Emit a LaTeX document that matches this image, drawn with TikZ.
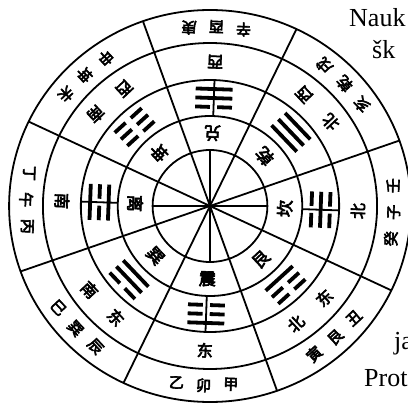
\documentclass[tikz,border=0pt]{standalone}
\usepackage{fontspec}
\setmainfont{Liberation Serif}
\newfontfamily\cjk[FakeBold=4]{Noto Sans CJK SC}
\def\rt{-2}
\newcommand\tgline[2]{%
  \ifnum#2=1 \draw[tgl] (-18,#1) -- (18,#1);
  \else \draw[tgl] (-18,#1) -- (-3.5,#1) (3.5,#1) -- (18,#1); \fi}
\newcommand\trigram[4]{% angle, bottom, middle, top (1 solid, 0 broken)
  \begin{scope}[shift={(#1+\rt:108)}, rotate=#1+\rt+90]
    \tgline{-9}{#2}\tgline{0}{#3}\tgline{9}{#4}
  \end{scope}}
\tikzset{
  ringline/.style={line width=1.8pt},
  tgl/.style={line width=3.8pt},
  mt/.style={font=\cjk\fontsize{15}{15}\selectfont, inner sep=0pt},
  dt/.style={font=\cjk\fontsize{16}{16}\selectfont, inner sep=0pt},
  gt/.style={font=\cjk\fontsize{17}{17}\selectfont, inner sep=0pt},
  lat/.style={font=\fontsize{26}{26}\selectfont, inner sep=0pt, anchor=base west}
}
\begin{document}
\begin{tikzpicture}[x=1pt,y=1pt]
\fill[white] (0,0) rectangle (408,-404);
\useasboundingbox (0,0) rectangle (408,-404);
\clip (0,0) rectangle (408,-404);
\begin{scope}[shift={(210,-206)}, xscale=1.025]
  % circles
  \foreach \r in {56,90,126,163,196} \draw[ringline] (0,0) circle[radius=\r];
  % sector boundary lines
  \foreach \a in {19.5,64.5,109.5,154.5} \draw[ringline] (\a:196) -- (\a+180:196);
  % cardinal spokes inside the inner circle
  \draw[ringline] (0:56) -- (180:56) (90:56) -- (270:56);
  % cardinal marks across the trigram ring
  \foreach \a in {0,90,180,270} \draw[ringline] (\a+\rt:91) -- (\a+\rt:125);
  % trigrams
  \trigram{0}{0}{1}{0}
  \trigram{-45}{0}{0}{1}
  \trigram{-90}{1}{0}{0}
  \trigram{-135}{0}{1}{1}
  \trigram{180}{1}{0}{1}
  \trigram{135}{0}{0}{0}
  \trigram{90}{1}{1}{0}
  \trigram{45}{1}{1}{1}
  % trigram names
  \foreach \a/\t [count=\i] in {0/坎,-45/艮,-90/震,-135/巽,180/离,135/坤,90/兑,45/乾}
    \node[gt, rotate=\a+\rt+90] (g\i) at (\a+\rt:73) {\t};
  % directions
  \foreach \a/\t [count=\i] in {0/北,-90/东,180/南,90/西}
    \node[dt, rotate=\a+\rt+90] (d\i) at (\a+\rt:144.5) {\t};
  \foreach \a/\x/\y [count=\i] in {-45/北/东,-135/南/东,135/西/南,45/北/西}{
    \node[dt, rotate=\a+\rt+90] (e\i-1) at (\a+\rt-7.5:144.5) {\x};
    \node[dt, rotate=\a+\rt+90] (e\i-2) at (\a+\rt+7.5:144.5) {\y};
  }
  % 24 mountains
  \foreach \a/\x/\y/\z [count=\i] in {0/癸/子/壬,-45/寅/艮/丑,-90/乙/卯/甲,-135/巳/巽/辰,180/丁/午/丙,135/申/坤/未,90/辛/酉/庚,45/亥/乾/戌}{
    \node[mt, rotate=\a+\rt+90] (m\i-1) at (\a+\rt-8.5:179.5) {\x};
    \node[mt, rotate=\a+\rt+90] (m\i-2) at (\a+\rt:179.5) {\y};
    \node[mt, rotate=\a+\rt+90] (m\i-3) at (\a+\rt+8.5:179.5) {\z};
  }
\end{scope}
% surrounding text fragments
\node[lat] (t1) at (349,-27) {Nauk};
\node[lat] (t2) at (372,-59) {šk};
\node[lat] (t3) at (394,-349) {ja};
\node[lat] (t4) at (364,-387) {Prot};
\end{tikzpicture}
\end{document}
